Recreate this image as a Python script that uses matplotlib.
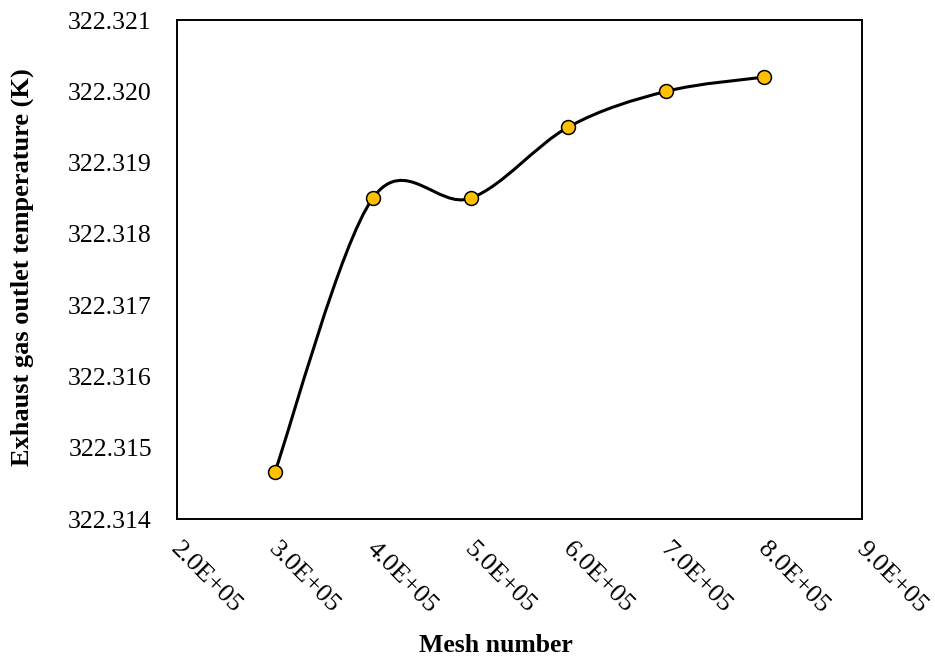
import matplotlib
matplotlib.use("Agg")
import matplotlib.pyplot as plt
from matplotlib.path import Path
from matplotlib.patches import PathPatch
from matplotlib.transforms import ScaledTranslation
import numpy as np

mesh = [3.0e5, 4.0e5, 5.0e5, 6.0e5, 7.0e5, 8.0e5]
temp = [322.31466, 322.3185, 322.3185, 322.3195, 322.3200, 322.3202]
xticks = [2e5, 3e5, 4e5, 5e5, 6e5, 7e5, 8e5, 9e5]
xtick_labels = ["2.0E+05", "3.0E+05", "4.0E+05", "5.0E+05", "6.0E+05", "7.0E+05", "8.0E+05", "9.0E+05"]
yticks = [322.314, 322.315, 322.316, 322.317, 322.318, 322.319, 322.320, 322.321]

plt.rcParams['font.family'] = ['Liberation Serif', 'DejaVu Serif']

fig = plt.figure(figsize=(9.35, 6.61), dpi=100)
ax = fig.add_axes([0.1893, 0.2148, 0.922 - 0.1893, 0.9697 - 0.2148])

xmin, xmax = 2e5, 9e5
ymin, ymax = 322.314, 322.321

# Excel-like smoothed line (Bezier through points), built in axes units
x = np.array(mesh); y = np.array(temp)
xn = (x - xmin) / (xmax - xmin)
yn = (y - ymin) / (ymax - ymin)
pts = np.column_stack([xn, yn])
n = len(pts)
verts = [pts[0]]
codes = [Path.MOVETO]
for i in range(n - 1):
    p0 = pts[i - 1] if i > 0 else pts[i]
    p1 = pts[i]
    p2 = pts[i + 1]
    p3 = pts[i + 2] if i + 2 < n else pts[i + 1]
    c1 = p1 + (p2 - p0) / 6.0
    c2 = p2 - (p3 - p1) / 6.0
    verts += [c1, c2, p2]
    codes += [Path.CURVE4] * 3
path = Path(np.array(verts), codes)
patch = PathPatch(path, facecolor='none', edgecolor='black', lw=2.2,
                  transform=ax.transAxes, zorder=2)
ax.add_patch(patch)

ax.plot(mesh, temp, linestyle='none', marker='o', markersize=10,
        markerfacecolor='#FFC000', markeredgecolor='black', markeredgewidth=1.1, zorder=3)

ax.set_xlim(xmin, xmax)
ax.set_ylim(ymin, ymax)
ax.set_xticks(xticks)
ax.set_xticklabels(xtick_labels, rotation=-45, ha='left', va='top',
                   rotation_mode='anchor', fontsize=19)
ax.set_yticks(yticks)
ax.set_yticklabels(["%.3f" % v for v in yticks], fontsize=18.5)
ax.tick_params(axis='both', length=0)
ax.tick_params(axis='y', pad=18)
ax.tick_params(axis='x', pad=14)
shift = ScaledTranslation(5 / 100, 0, fig.dpi_scale_trans)
for lbl in ax.get_xticklabels():
    lbl.set_transform(lbl.get_transform() + shift)
for s in ax.spines.values():
    s.set_linewidth(1.4)

ax.set_xlabel("Mesh number", fontsize=18.5, fontweight='bold', va='center')
ax.xaxis.set_label_coords(0.466, -0.254)
ax.set_ylabel("Exhaust gas outlet temperature (K)", fontsize=19, fontweight='bold', va='center')
ax.yaxis.set_label_coords(-0.2263, 0.505)

fig.savefig("out.png", dpi=100)
